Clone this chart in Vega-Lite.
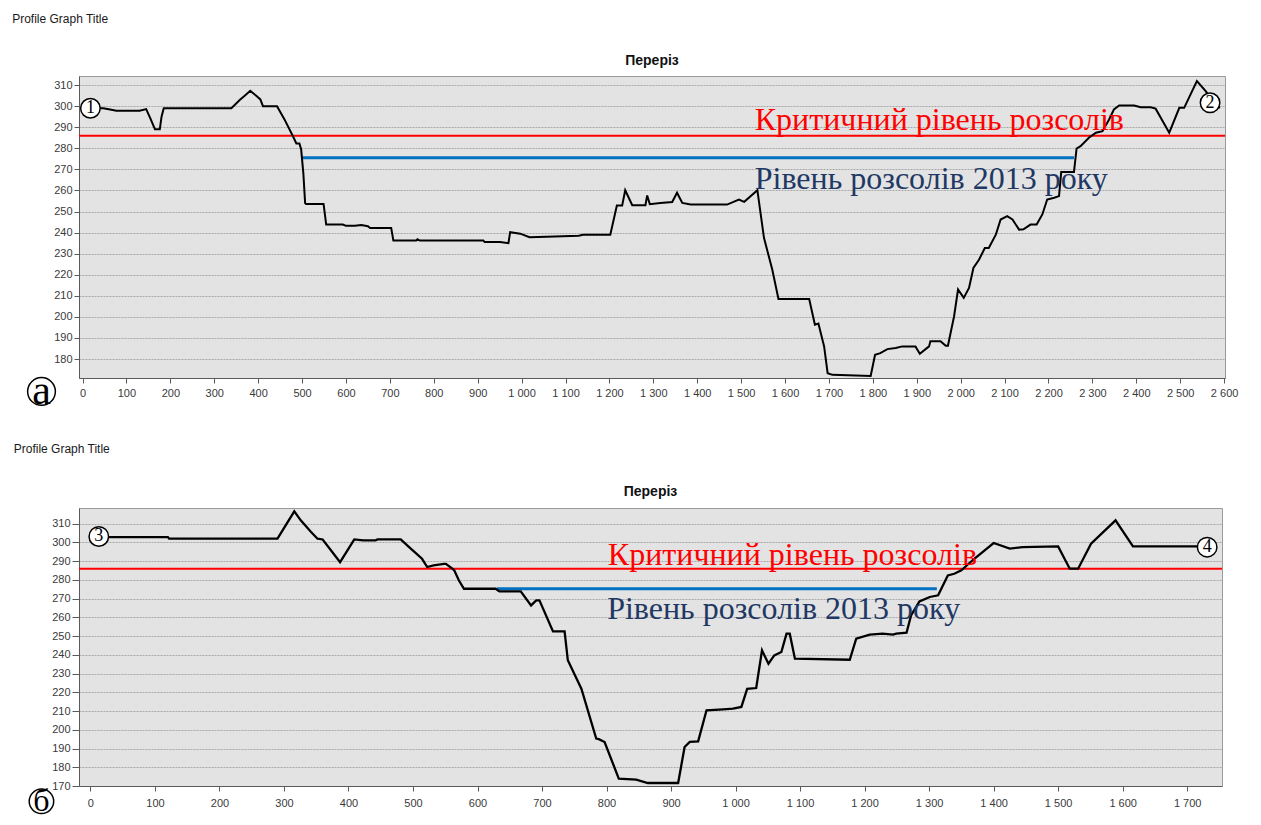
{
  "$schema": "https://vega.github.io/schema/vega-lite/v6.json",
  "background": "white",
  "padding": {"left": 12, "top": 12, "right": 5, "bottom": 0},
  "spacing": 30,
  "datasets": {
    "topProfile": [
      {"d":0,"z":299},{"d":20,"z":299},{"d":47,"z":299},{"d":60,"z":298.5},{"d":77,"z":297.8},{"d":130,"z":297.8},{"d":145,"z":298.6},{"d":155,"z":294},{"d":165,"z":289},{"d":176,"z":289},{"d":180,"z":295},{"d":185,"z":299},{"d":339,"z":299},{"d":358,"z":302.9},{"d":370,"z":305},{"d":382,"z":307.3},{"d":395,"z":305},{"d":405,"z":303.2},{"d":411,"z":300},{"d":443,"z":300},{"d":460,"z":293.7},{"d":479,"z":285.8},{"d":487,"z":282.3},{"d":494,"z":282.3},{"d":498,"z":279.4},{"d":503,"z":268},{"d":507,"z":254},{"d":509,"z":253.6},{"d":549,"z":253.6},{"d":555,"z":243.8},{"d":593,"z":243.8},{"d":600,"z":243.2},{"d":620,"z":243.2},{"d":635,"z":243.6},{"d":650,"z":243},{"d":655,"z":242.2},{"d":703,"z":242.2},{"d":708,"z":236.2},{"d":760,"z":236.2},{"d":763,"z":236.8},{"d":768,"z":236.2},{"d":913,"z":236.2},{"d":916,"z":235.5},{"d":951,"z":235.5},{"d":970,"z":235},{"d":974,"z":240.2},{"d":997,"z":239.5},{"d":1018,"z":237.8},{"d":1057,"z":238},{"d":1130,"z":238.5},{"d":1140,"z":239},{"d":1202,"z":239},{"d":1217,"z":252.8},{"d":1229,"z":252.8},{"d":1236,"z":260.1},{"d":1252,"z":253},{"d":1282,"z":253},{"d":1286,"z":257.6},{"d":1292,"z":253.5},{"d":1316,"z":254},{"d":1343,"z":254.5},{"d":1354,"z":258.9},{"d":1366,"z":254.1},{"d":1385,"z":253.3},{"d":1468,"z":253.3},{"d":1495,"z":255.7},{"d":1507,"z":254.6},{"d":1537,"z":260.1},{"d":1552,"z":237.5},{"d":1571,"z":222.4},{"d":1585,"z":208.5},{"d":1655,"z":208.5},{"d":1668,"z":196.3},{"d":1676,"z":196.8},{"d":1689,"z":186},{"d":1697,"z":173.3},{"d":1708,"z":172.5},{"d":1795,"z":172},{"d":1805,"z":182},{"d":1817,"z":182.8},{"d":1833,"z":184.7},{"d":1852,"z":185.2},{"d":1867,"z":186},{"d":1897,"z":186},{"d":1907,"z":182.5},{"d":1928,"z":186},{"d":1931,"z":188.4},{"d":1954,"z":188.4},{"d":1966,"z":186.3},{"d":1971,"z":186.3},{"d":1985,"z":200.3},{"d":1994,"z":213},{"d":2007,"z":209},{"d":2019,"z":213.7},{"d":2029,"z":223.2},{"d":2042,"z":227.2},{"d":2055,"z":232.7},{"d":2064,"z":232.7},{"d":2080,"z":239},{"d":2091,"z":246.2},{"d":2106,"z":247.8},{"d":2118,"z":246.2},{"d":2133,"z":241.4},{"d":2143,"z":241.6},{"d":2159,"z":243.8},{"d":2173,"z":243.8},{"d":2186,"z":248.6},{"d":2197,"z":255.7},{"d":2213,"z":256.5},{"d":2224,"z":257.3},{"d":2229,"z":268.7},{"d":2258,"z":268.7},{"d":2264,"z":279.9},{"d":2273,"z":281},{"d":2292,"z":285},{"d":2308,"z":287.4},{"d":2323,"z":288.1},{"d":2338,"z":293.7},{"d":2349,"z":298.4},{"d":2361,"z":300.3},{"d":2395,"z":300.3},{"d":2410,"z":299.5},{"d":2433,"z":299.5},{"d":2444,"z":298.8},{"d":2475,"z":287.4},{"d":2498,"z":299.2},{"d":2509,"z":299.2},{"d":2538,"z":311.9},{"d":2558,"z":307.1},{"d":2575,"z":302},{"d":2590,"z":299}
    ],
    "bottomProfile": [
      {"d":0,"z":302.9},{"d":120,"z":302.9},{"d":122,"z":302},{"d":290,"z":302},{"d":316,"z":316.6},{"d":326,"z":311.8},{"d":342,"z":305.6},{"d":352,"z":302},{"d":360,"z":301.6},{"d":387,"z":289.5},{"d":409,"z":301.6},{"d":423,"z":301.1},{"d":442,"z":301.1},{"d":445,"z":301.6},{"d":481,"z":301.6},{"d":494,"z":297.5},{"d":514,"z":291.3},{"d":522,"z":286.9},{"d":532,"z":287.8},{"d":548,"z":288.6},{"d":551,"z":288.6},{"d":561,"z":286},{"d":564,"z":285.1},{"d":571,"z":279.8},{"d":579,"z":275.3},{"d":628,"z":275.3},{"d":634,"z":273.9},{"d":667,"z":273.9},{"d":683,"z":266.4},{"d":691,"z":269.1},{"d":696,"z":269.1},{"d":717,"z":252.5},{"d":735,"z":252.5},{"d":740,"z":237.1},{"d":761,"z":221.9},{"d":784,"z":195.3},{"d":788,"z":195},{"d":797,"z":193.5},{"d":819,"z":173.9},{"d":846,"z":173.4},{"d":864,"z":171.6},{"d":911,"z":171.6},{"d":921,"z":190.8},{"d":929,"z":193.5},{"d":942,"z":193.8},{"d":955,"z":210.4},{"d":981,"z":210.9},{"d":996,"z":211.3},{"d":1009,"z":212.2},{"d":1018,"z":221.9},{"d":1032,"z":222.3},{"d":1041,"z":242.4},{"d":1051,"z":235.3},{"d":1060,"z":239.7},{"d":1071,"z":241.5},{"d":1079,"z":251.3},{"d":1084,"z":251.3},{"d":1092,"z":238},{"d":1177,"z":237.4},{"d":1187,"z":248.6},{"d":1208,"z":250.8},{"d":1228,"z":251.3},{"d":1244,"z":250.8},{"d":1249,"z":251.3},{"d":1265,"z":251.8},{"d":1272,"z":261.1},{"d":1285,"z":268.5},{"d":1301,"z":270.9},{"d":1314,"z":271.8},{"d":1329,"z":282.4},{"d":1339,"z":283.3},{"d":1350,"z":285.1},{"d":1370,"z":291.3},{"d":1400,"z":299.7},{"d":1425,"z":296.7},{"d":1445,"z":297.5},{"d":1500,"z":297.9},{"d":1518,"z":286},{"d":1531,"z":286},{"d":1551,"z":299.3},{"d":1589,"z":311.8},{"d":1616,"z":297.9},{"d":1735,"z":297.9}
    ],
    "topLevels": [
      {"d":-8,"d2":2602,"z":286,"level":"critical"},
      {"d":500,"d2":2258,"z":275.5,"level":"y2013"}
    ],
    "bottomLevels": [
      {"d":-17.7,"d2":1754,"z":286,"level":"critical"},
      {"d":630,"d2":1312,"z":275.3,"level":"y2013"}
    ],
    "topLabels": [
      {"d":1531,"z":288.5,"label":"Критичний рівень розсолів","level":"critical"},
      {"d":1531,"z":260.9,"label":"Рівень розсолів 2013 року","level":"y2013"}
    ],
    "bottomLabels": [
      {"d":802,"z":287.75,"label":"Критичний рівень розсолів","level":"critical"},
      {"d":801,"z":258.9,"label":"Рівень розсолів 2013 року","level":"y2013"}
    ],
    "topMarkers": [
      {"d":18,"z":299,"num":"1"},
      {"d":2568,"z":301.6,"num":"2"}
    ],
    "bottomMarkers": [
      {"d":13,"z":303.2,"num":"3"},
      {"d":1731,"z":297.5,"num":"4"}
    ],
    "topPanel": [{"d":-93.4,"z":164.6,"letter":"а"}],
    "bottomPanel": [{"d":-75.9,"z":161.8,"letter":"б"}]
  },
  "vconcat": [
    {
      "title": {"text": "Profile Graph Title", "anchor": "start", "font": "Liberation Sans", "fontSize": 12, "fontWeight": "normal", "color": "#1a1a1a", "offset": 28, "dx": -12},
      "vconcat": [
        {
          "width": 1146,
          "height": 302,
          "title": {"text": "Переріз", "anchor": "middle", "font": "Liberation Sans", "fontSize": 14, "fontWeight": "bold", "color": "#111111", "offset": 8},
          "encoding": {
            "x": {"field": "d", "type": "quantitative", "scale": {"domain": [-8, 2602], "nice": false, "zero": false},
                  "axis": {"title": null, "values": [0,100,200,300,400,500,600,700,800,900,1000,1100,1200,1300,1400,1500,1600,1700,1800,1900,2000,2100,2200,2300,2400,2500,2600], "labelExpr": "replace(format(datum.value, ','), ',', ' ')"}},
            "y": {"field": "z", "type": "quantitative", "scale": {"domain": [171, 314.3], "nice": false, "zero": false},
                  "axis": {"title": null, "values": [180,190,200,210,220,230,240,250,260,270,280,290,300,310]}}
          },
          "layer": [
            {"data": {"name": "topLevels"}, "transform": [{"filter": "datum.level === 'critical'"}], "mark": {"type": "rule", "color": "#ff0000", "strokeWidth": 2}, "encoding": {"x2": {"field": "d2"}}},
            {"data": {"name": "topLevels"}, "transform": [{"filter": "datum.level === 'y2013'"}], "mark": {"type": "rule", "color": "#0070c0", "strokeWidth": 3}, "encoding": {"x2": {"field": "d2"}}},
            {"data": {"name": "topProfile"}, "mark": {"type": "line", "color": "#000000", "strokeWidth": 2}},
            {"data": {"name": "topLabels"}, "transform": [{"filter": "datum.level === 'critical'"}], "mark": {"type": "text", "font": "Liberation Serif", "fontSize": 32, "align": "left", "baseline": "alphabetic", "color": "#ff0000"}, "encoding": {"text": {"field": "label"}}},
            {"data": {"name": "topLabels"}, "transform": [{"filter": "datum.level === 'y2013'"}], "mark": {"type": "text", "font": "Liberation Serif", "fontSize": 32, "align": "left", "baseline": "alphabetic", "color": "#1f3864"}, "encoding": {"text": {"field": "label"}}},
            {"data": {"name": "topMarkers"}, "mark": {"type": "point", "shape": "circle", "filled": true, "fill": "#ffffff", "stroke": "#000000", "strokeWidth": 1.5, "size": 380, "opacity": 1}},
            {"data": {"name": "topMarkers"}, "mark": {"type": "text", "font": "Liberation Serif", "fontSize": 18, "align": "center", "baseline": "middle", "color": "#000000"}, "encoding": {"text": {"field": "num"}}},
            {"data": {"name": "topPanel"}, "mark": {"type": "point", "shape": "circle", "filled": true, "fill": "#ffffff", "stroke": "#000000", "strokeWidth": 1.5, "size": 770, "opacity": 1}},
            {"data": {"name": "topPanel"}, "mark": {"type": "text", "font": "Liberation Serif", "fontSize": 42, "align": "center", "baseline": "middle", "color": "#000000"}, "encoding": {"text": {"field": "letter"}}}
          ]
        }
      ]
    },
    {
      "title": {"text": "Profile Graph Title", "anchor": "start", "font": "Liberation Sans", "fontSize": 12, "fontWeight": "normal", "color": "#1a1a1a", "offset": 28, "dx": -12},
      "vconcat": [
        {
          "width": 1143,
          "height": 278,
          "title": {"text": "Переріз", "anchor": "middle", "font": "Liberation Sans", "fontSize": 14, "fontWeight": "bold", "color": "#111111", "offset": 8},
          "encoding": {
            "x": {"field": "d", "type": "quantitative", "scale": {"domain": [-17.7, 1754], "nice": false, "zero": false},
                  "axis": {"title": null, "labelPadding": 6, "values": [0,100,200,300,400,500,600,700,800,900,1000,1100,1200,1300,1400,1500,1600,1700], "labelExpr": "replace(format(datum.value, ','), ',', ' ')"}},
            "y": {"field": "z", "type": "quantitative", "scale": {"domain": [170, 318.4], "nice": false, "zero": false},
                  "axis": {"title": null, "tickSize": 7, "values": [170,180,190,200,210,220,230,240,250,260,270,280,290,300,310]}}
          },
          "layer": [
            {"data": {"name": "bottomLevels"}, "transform": [{"filter": "datum.level === 'critical'"}], "mark": {"type": "rule", "color": "#ff0000", "strokeWidth": 2}, "encoding": {"x2": {"field": "d2"}}},
            {"data": {"name": "bottomLevels"}, "transform": [{"filter": "datum.level === 'y2013'"}], "mark": {"type": "rule", "color": "#0070c0", "strokeWidth": 3}, "encoding": {"x2": {"field": "d2"}}},
            {"data": {"name": "bottomProfile"}, "mark": {"type": "line", "color": "#000000", "strokeWidth": 2.3}},
            {"data": {"name": "bottomLabels"}, "transform": [{"filter": "datum.level === 'critical'"}], "mark": {"type": "text", "font": "Liberation Serif", "fontSize": 32, "align": "left", "baseline": "alphabetic", "color": "#ff0000"}, "encoding": {"text": {"field": "label"}}},
            {"data": {"name": "bottomLabels"}, "transform": [{"filter": "datum.level === 'y2013'"}], "mark": {"type": "text", "font": "Liberation Serif", "fontSize": 32, "align": "left", "baseline": "alphabetic", "color": "#1f3864"}, "encoding": {"text": {"field": "label"}}},
            {"data": {"name": "bottomMarkers"}, "mark": {"type": "point", "shape": "circle", "filled": true, "fill": "#ffffff", "stroke": "#000000", "strokeWidth": 1.5, "size": 380, "opacity": 1}},
            {"data": {"name": "bottomMarkers"}, "mark": {"type": "text", "font": "Liberation Serif", "fontSize": 18, "align": "center", "baseline": "middle", "color": "#000000"}, "encoding": {"text": {"field": "num"}}},
            {"data": {"name": "bottomPanel"}, "mark": {"type": "point", "shape": "circle", "filled": true, "fill": "#ffffff", "stroke": "#000000", "strokeWidth": 1.5, "size": 600, "opacity": 1}},
            {"data": {"name": "bottomPanel"}, "mark": {"type": "text", "font": "Liberation Serif", "fontSize": 32, "align": "center", "baseline": "middle", "color": "#000000"}, "encoding": {"text": {"field": "letter"}}}
          ]
        }
      ]
    }
  ],
  "config": {
    "view": {"fill": "#e3e3e3", "stroke": "#9a9a9a", "strokeWidth": 1},
    "axis": {"labelFont": "Liberation Sans", "labelFontSize": 11, "labelColor": "#3a3a3a", "domainColor": "#5a5a5a", "tickColor": "#5a5a5a", "labelFlush": false, "labelOverlap": false, "labelBound": false},
    "axisX": {"grid": false, "tickSize": 5, "labelPadding": 4},
    "axisY": {"grid": true, "gridColor": "#a8a8a8", "gridDash": [2, 1], "gridWidth": 1, "tickSize": 5, "labelPadding": 2}
  }
}
